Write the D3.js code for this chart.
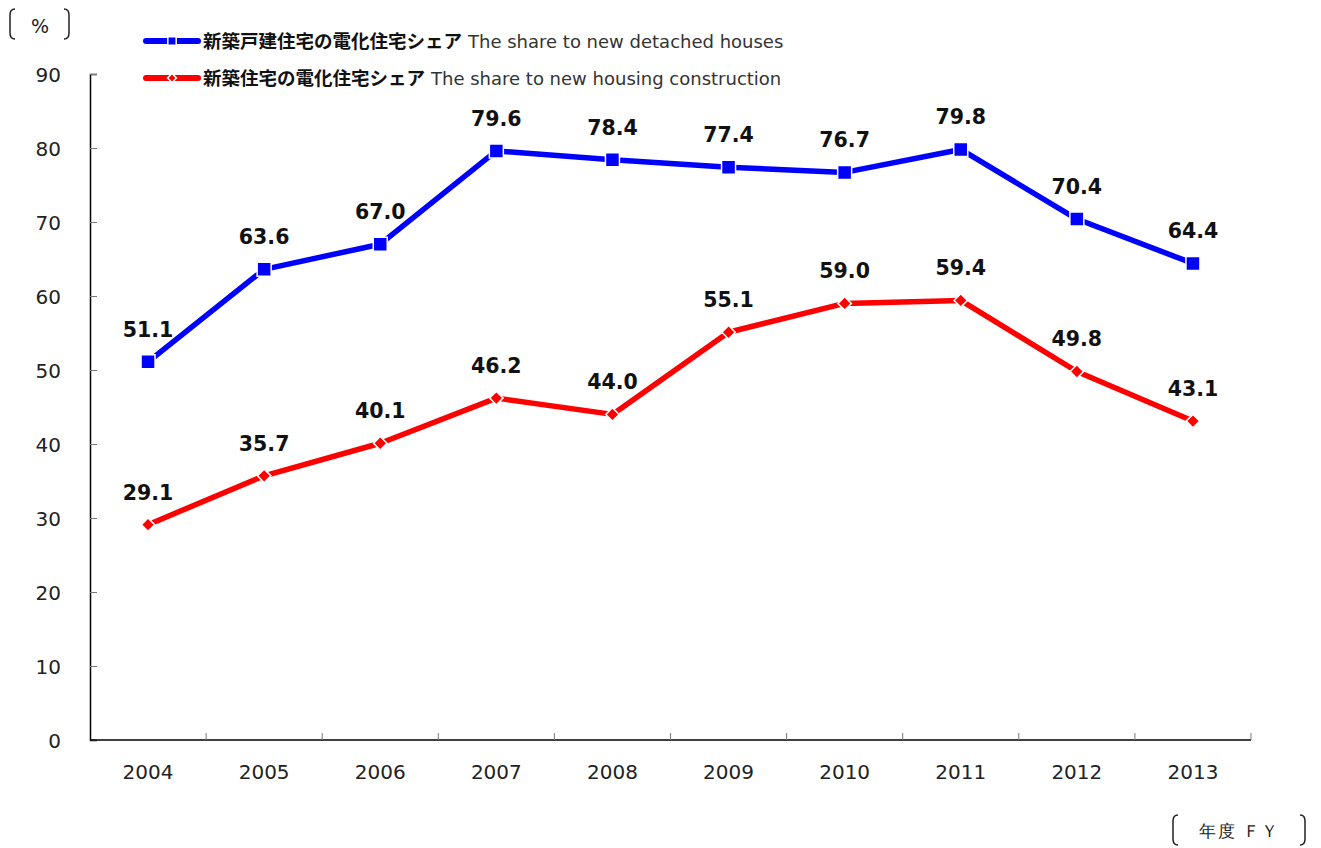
<!DOCTYPE html>
<html>
<head>
<meta charset="utf-8">
<script src="https://cdn.jsdelivr.net/npm/d3@7"></script>
<style>
  body { margin: 0; background: #fff; }
  svg text { font-family: "DejaVu Sans", "Noto Sans", sans-serif; }
</style>
</head>
<body>
<svg id="chart"></svg>
<script>
// ---------------- data ----------------
const years = ["2004", "2005", "2006", "2007", "2008", "2009", "2010", "2011", "2012", "2013"];
const detached = [51.1, 63.6, 67.0, 79.6, 78.4, 77.4, 76.7, 79.8, 70.4, 64.4];
const housing = [29.1, 35.7, 40.1, 46.2, 44.0, 55.1, 59.0, 59.4, 49.8, 43.1];
const yTicks = [0, 10, 20, 30, 40, 50, 60, 70, 80, 90];
const legendJa = ["新築戸建住宅の電化住宅シェア", "新築住宅の電化住宅シェア"];
const legendEn = ["The share to new detached houses", "The share to new housing construction"];

const width = 1321, height = 848;
const plotLeft = 90, plotRight = 1251, plotTop = 74, plotBottom = 740;

const svg = d3.select("#chart")
  .attr("width", width)
  .attr("height", height);

// scales
const xScale = d3.scaleBand().domain(years).range([plotLeft, plotRight]);
const yScale = d3.scaleLinear().domain([0, 90]).range([plotBottom, plotTop]);

// y axis (ticks inward)
const yAxis = svg.append("g")
  .attr("transform", "translate(" + plotLeft + ",0)")
  .call(d3.axisRight(yScale).tickValues(yTicks).tickSize(7).tickFormat(""));
yAxis.select(".domain").attr("stroke", "#000").attr("stroke-width", 1.5);
yAxis.selectAll(".tick line").attr("stroke", "#777");

yTicks.forEach(v => {
  svg.append("text")
    .attr("x", 61)
    .attr("y", yScale(v) + 8)
    .attr("text-anchor", "end")
    .attr("font-size", 20)
    .attr("fill", "#222")
    .text(v);
});

// x axis: boundary ticks pointing up
const xAxis = svg.append("g")
  .attr("transform", "translate(0," + plotBottom + ")");
xAxis.append("line")
  .attr("x1", plotLeft).attr("x2", plotRight)
  .attr("y1", 0).attr("y2", 0)
  .attr("stroke", "#000").attr("stroke-width", 1.5);
years.forEach((y, i) => {
  if (i > 0) {
    xAxis.append("line")
      .attr("x1", xScale(y)).attr("x2", xScale(y))
      .attr("y1", 0).attr("y2", -7)
      .attr("stroke", "#777");
  }
  xAxis.append("text")
    .attr("x", xScale(y) + xScale.bandwidth() / 2)
    .attr("y", 39)
    .attr("text-anchor", "middle")
    .attr("font-size", 20)
    .attr("fill", "#222")
    .text(y);
});
xAxis.append("line")
  .attr("x1", plotRight).attr("x2", plotRight)
  .attr("y1", 0).attr("y2", -7)
  .attr("stroke", "#777");

// ---------------- series ----------------
const cx = d => xScale(d) + xScale.bandwidth() / 2;
const line = d3.line().x(d => cx(d.year)).y(d => yScale(d.value));

function drawSeries(values, color, shape) {
  const data = years.map((y, i) => ({ year: y, value: values[i] }));
  svg.append("path")
    .datum(data)
    .attr("d", line)
    .attr("fill", "none")
    .attr("stroke", color)
    .attr("stroke-width", 5.5)
    .attr("stroke-linejoin", "round");

  // diamond = square turned 45 degrees
  const size = shape === "square" ? 196 : 90;
  const rot = shape === "square" ? "" : " rotate(45)";
  svg.append("g").selectAll("path")
    .data(data)
    .join("path")
    .attr("transform", d => "translate(" + cx(d.year) + "," + yScale(d.value) + ")" + rot)
    .attr("d", d3.symbol().type(d3.symbolSquare).size(size))
    .attr("fill", color)
    .attr("stroke", "#fff")
    .attr("stroke-width", 1.5);

  svg.append("g").selectAll("text")
    .data(data)
    .join("text")
    .attr("x", d => cx(d.year))
    .attr("y", d => yScale(d.value) - 25)
    .attr("text-anchor", "middle")
    .attr("font-family", "'Noto Sans', sans-serif")
    .attr("font-size", 20.5)
    .attr("font-weight", 600)
    .attr("fill", "#111")
    .text(d => d.value.toFixed(1));
}

drawSeries(detached, "#0000ff", "square");
drawSeries(housing, "#ff0000", "diamond");

// ---------------- legend ----------------
const legendColors = ["#0000ff", "#ff0000"];
const legendRot = ["", " rotate(45)"];
const legendSizes = [70, 40];
[41, 78].forEach((ly, i) => {
  svg.append("line")
    .attr("x1", 146).attr("x2", 198)
    .attr("y1", ly).attr("y2", ly)
    .attr("stroke", legendColors[i])
    .attr("stroke-width", 6)
    .attr("stroke-linecap", "round");
  svg.append("path")
    .attr("transform", "translate(172," + ly + ")" + legendRot[i])
    .attr("d", d3.symbol().type(d3.symbolSquare).size(legendSizes[i]))
    .attr("fill", legendColors[i])
    .attr("stroke", "#fff")
    .attr("stroke-width", 1.5);
  const t = svg.append("text")
    .attr("x", 203)
    .attr("y", ly + 6.5);
  t.append("tspan")
    .attr("font-family", "'Noto Sans CJK JP', sans-serif")
    .attr("font-size", 18.5)
    .attr("font-weight", "bold")
    .attr("fill", "#111")
    .text(legendJa[i]);
  t.append("tspan")
    .attr("font-size", 18)
    .attr("fill", "#333")
    .attr("dx", 6)
    .text(legendEn[i]);
});

// ---------------- unit labels with brackets ----------------
function bracket(x, y1, y2, dir) {
  const w = 5 * dir;
  svg.append("path")
    .attr("d", "M" + (x + w) + "," + y1 + " Q" + x + "," + y1 + " " + x + "," + (y1 + 6) +
      " L" + x + "," + (y2 - 6) + " Q" + x + "," + y2 + " " + (x + w) + "," + y2)
    .attr("fill", "none")
    .attr("stroke", "#222")
    .attr("stroke-width", 1.5);
}

bracket(10, 9, 39, 1);
bracket(69, 9, 39, -1);
svg.append("text")
  .attr("x", 40).attr("y", 33)
  .attr("text-anchor", "middle")
  .attr("font-size", 19)
  .attr("fill", "#222")
  .text("%");

bracket(1173, 815, 845, 1);
bracket(1305, 815, 845, -1);
svg.append("text")
  .attr("x", 1199).attr("y", 837)
  .attr("font-size", 17)
  .attr("letter-spacing", 1.5)
  .attr("font-family", "'Noto Sans CJK JP', sans-serif")
  .attr("fill", "#222")
  .text("年度 ＦＹ");
</script>
</body>
</html>
